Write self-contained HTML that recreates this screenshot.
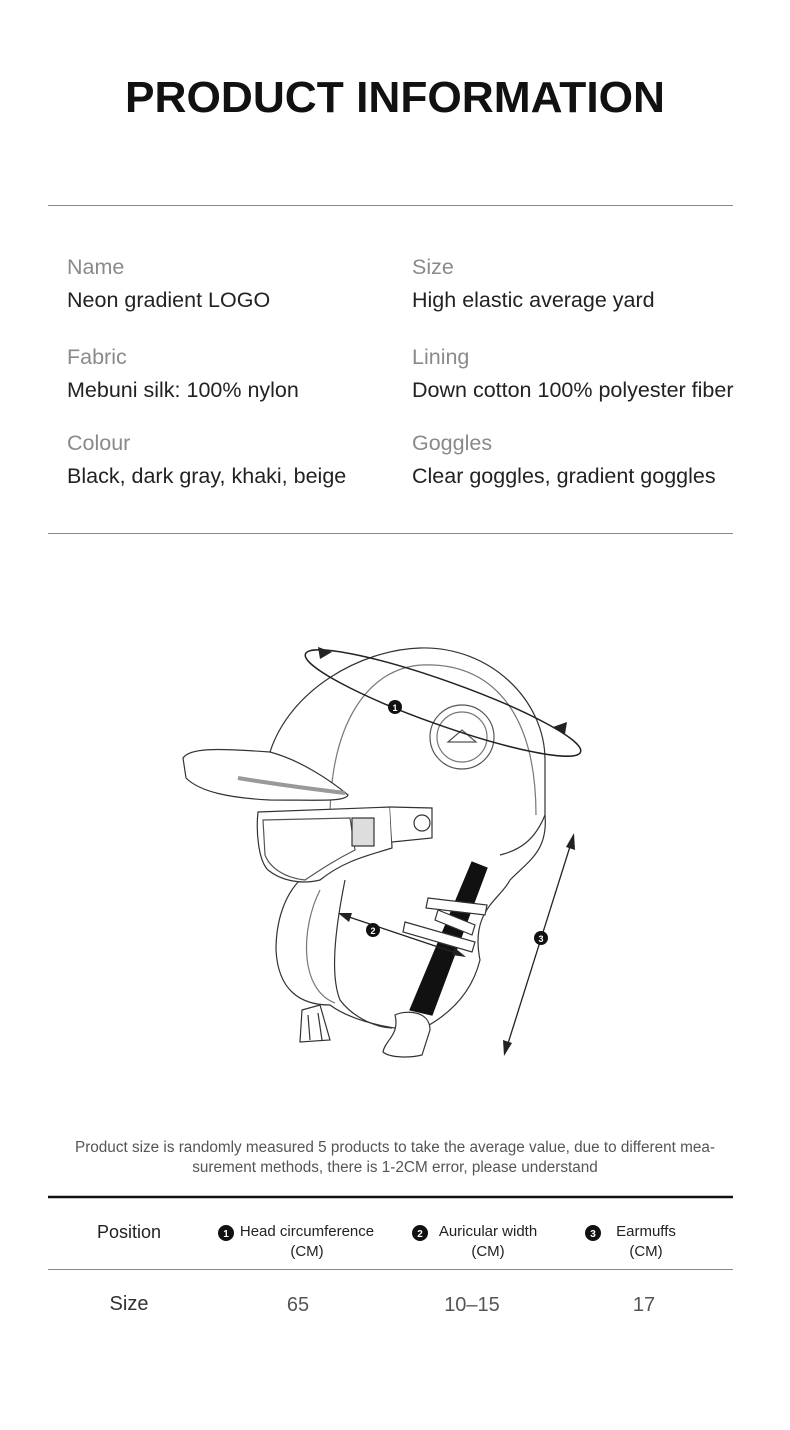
<!DOCTYPE html>
<html><head><meta charset="utf-8"><style>
html,body{margin:0;padding:0;background:#fff;}
body{width:790px;height:1430px;position:relative;overflow:hidden;font-family:"Liberation Sans",sans-serif;}
</style></head><body>
<svg width="790" height="1430" viewBox="0 0 790 1430" xmlns="http://www.w3.org/2000/svg" style="position:absolute;left:0;top:0">
<text x="125" y="112" textLength="540" lengthAdjust="spacingAndGlyphs" font-family="Liberation Sans" font-weight="bold" font-size="44" fill="#111">PRODUCT INFORMATION</text>
<line x1="48" y1="205.5" x2="733" y2="205.5" stroke="#888" stroke-width="1"/>
<g font-family="Liberation Sans" font-size="21.5">
<text x="67" y="274" fill="#8a8a8a">Name</text>
<text x="67" y="307" fill="#222">Neon gradient LOGO</text>
<text x="412" y="274" fill="#8a8a8a">Size</text>
<text x="412" y="307" fill="#222">High elastic average yard</text>
<text x="67" y="364" fill="#8a8a8a">Fabric</text>
<text x="67" y="397" fill="#222">Mebuni silk: 100% nylon</text>
<text x="412" y="364" fill="#8a8a8a">Lining</text>
<text x="412" y="397" fill="#222">Down cotton 100% polyester fiber</text>
<text x="67" y="450" fill="#8a8a8a">Colour</text>
<text x="67" y="483" fill="#222">Black, dark gray, khaki, beige</text>
<text x="412" y="450" fill="#8a8a8a">Goggles</text>
<text x="412" y="483" fill="#222">Clear goggles, gradient goggles</text>
</g>
<line x1="48" y1="533.5" x2="733" y2="533.5" stroke="#888" stroke-width="1"/>

<g fill="none" stroke="#333" stroke-width="1.2">
<path d="M270 752 C290 690 360 650 420 648 C490 646 545 700 545 760 L545 815 C548 850 530 860 510 880 C500 900 470 910 480 960 C470 1000 440 1020 420 1030 C390 1030 350 1020 330 1005 C300 1005 278 990 276 950 C276 920 285 895 300 880"/>
<path d="M330 820 C330 720 370 668 422 665 C490 662 536 710 536 815" stroke="#777"/>
<path d="M345 880 C335 930 330 975 340 1000 C355 1020 380 1028 392 1028" />
<path d="M320 890 C300 930 300 990 335 1003" stroke="#777"/>
<path d="M545 815 C535 840 520 850 500 855"/>
<circle cx="462" cy="737" r="32" stroke="#555"/>
<circle cx="462" cy="737" r="25" stroke="#777"/>
<path d="M448 742 L462 730 L476 742 Z" stroke="#555"/>
<path d="M183 758 C190 748 215 748 270 752 C300 760 330 780 348 795 C345 802 320 800 270 800 C230 798 200 792 186 778 Z" fill="#fff"/>
<path d="M238 778 C280 785 320 790 345 793" stroke="#999" stroke-width="4"/>
<path d="M258 812 L390 807 L392 848 C370 855 345 860 320 880 C300 885 280 880 268 870 C258 860 256 830 258 812 Z" fill="#fff"/>
<path d="M263 820 L350 818 L355 850 C335 860 320 870 305 880 C285 878 270 868 265 855 Z" stroke="#555"/>
<rect x="352" y="818" width="22" height="28" stroke="#333" fill="#ddd"/>
<path d="M390 807 L432 808 L432 838 L392 842" fill="#fff"/>
<circle cx="422" cy="823" r="8"/>
<path d="M472 862 L487 868 L432 1015 L410 1010 Z" fill="#111" stroke="#111"/>
<path d="M428 898 L487 905 L485 915 L426 908 Z M438 910 L475 925 L472 935 L435 920 Z M405 922 L475 942 L472 952 L403 932 Z" fill="#fff"/>
<path d="M395 1015 C405 1010 430 1010 430 1030 L422 1055 C410 1058 390 1058 383 1052 C385 1040 400 1035 395 1015 Z" fill="#fff"/>
<path d="M302 1010 L320 1005 L330 1040 L300 1042 Z" fill="#fff"/>
<path d="M308 1015 L310 1040 M318 1013 L322 1040" />
</g>
<ellipse cx="443" cy="703" rx="146" ry="22" transform="rotate(19.6 443 703)" fill="none" stroke="#222" stroke-width="1.5"/>
<polygon points="332,652 318,647 320,659" fill="#222"/>
<polygon points="553,727 567,722 565,734" fill="#222"/>
<circle cx="395" cy="707" r="7" fill="#111"/><text x="395" y="711" text-anchor="middle" font-size="9" font-weight="bold" fill="#fff" font-family="Liberation Sans">1</text>
<line x1="343" y1="915" x2="462" y2="955" stroke="#222" stroke-width="1.3"/>
<polygon points="338,913 352,913 349,922" fill="#222"/>
<polygon points="466,957 452,955 455,948" fill="#222"/>
<circle cx="373" cy="930" r="7" fill="#111"/><text x="373" y="934" text-anchor="middle" font-size="9" font-weight="bold" fill="#fff" font-family="Liberation Sans">2</text>
<line x1="573" y1="837" x2="505" y2="1053" stroke="#222" stroke-width="1.3"/>
<polygon points="574,833 575,850 566,847" fill="#222"/>
<polygon points="504,1056 503,1040 512,1043" fill="#222"/>
<circle cx="541" cy="938" r="7" fill="#111"/><text x="541" y="942" text-anchor="middle" font-size="9" font-weight="bold" fill="#fff" font-family="Liberation Sans">3</text>

<g font-family="Liberation Sans" font-size="15.3" fill="#555" text-anchor="middle">
<text x="395" y="1152">Product size is randomly measured 5 products to take the average value, due to different mea-</text>
<text x="395" y="1172">surement methods, there is 1-2CM error, please understand</text>
</g>
<line x1="48" y1="1197" x2="733" y2="1197" stroke="#111" stroke-width="2.5"/>
<g font-family="Liberation Sans" fill="#222" text-anchor="middle">
<text x="129" y="1238" font-size="18">Position</text>
<circle cx="226" cy="1233" r="8" fill="#111"/><text x="226" y="1237" font-size="10" font-weight="bold" fill="#fff">1</text>
<text x="307" y="1236" font-size="15">Head circumference</text>
<text x="307" y="1256" font-size="15">(CM)</text>
<circle cx="420" cy="1233" r="8" fill="#111"/><text x="420" y="1237" font-size="10" font-weight="bold" fill="#fff">2</text>
<text x="488" y="1236" font-size="15">Auricular width</text>
<text x="488" y="1256" font-size="15">(CM)</text>
<circle cx="593" cy="1233" r="8" fill="#111"/><text x="593" y="1237" font-size="10" font-weight="bold" fill="#fff">3</text>
<text x="646" y="1236" font-size="15">Earmuffs</text>
<text x="646" y="1256" font-size="15">(CM)</text>
</g>
<line x1="48" y1="1269.5" x2="733" y2="1269.5" stroke="#888" stroke-width="1"/>
<g font-family="Liberation Sans" fill="#333" text-anchor="middle" font-size="20">
<text x="129" y="1310">Size</text>
<text x="298" y="1311" fill="#555">65</text>
<text x="472" y="1311" fill="#555">10–15</text>
<text x="644" y="1311" fill="#555">17</text>
</g>
</svg>
</body></html>
